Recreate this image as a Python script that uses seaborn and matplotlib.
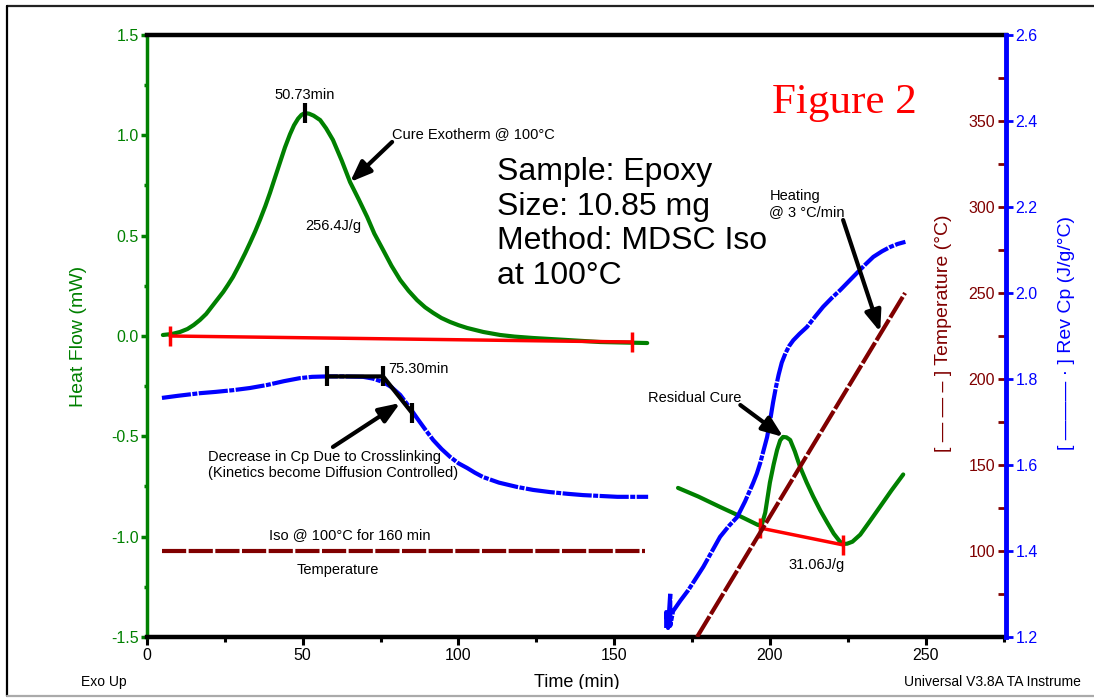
import numpy as np
import matplotlib
matplotlib.use("Agg")
import matplotlib.pyplot as plt
from matplotlib.lines import Line2D
from matplotlib.patches import Rectangle
import seaborn as sns

# ---------------- data ----------------
# isothermal segment (100 °C)
iso_time = [5.1, 8.0, 10.6, 13.0, 15.0, 17.0, 19.0, 21.0, 22.5, 24.5, 26.0, 27.6,
            29.5, 31.5, 33.1, 34.7, 36.3, 38.0, 39.5, 41.0, 42.7, 44.3, 45.9, 47.2,
            48.5, 49.6, 50.7, 52.0, 53.5, 55.6, 57.5, 59.7, 62.5, 65.2, 68.0, 70.7,
            73.0, 75.8, 78.5, 81.3, 84.0, 86.7, 89.3, 91.9, 94.5, 97.3, 100.0,
            102.8, 108.0, 113.4, 118.0, 124.0, 134.9, 145.5, 160.6]
iso_heat_flow = [0.005, 0.010, 0.020, 0.035, 0.055, 0.080, 0.110, 0.150, 0.180,
                 0.220, 0.255, 0.294, 0.350, 0.412, 0.465, 0.520, 0.580, 0.648,
                 0.714, 0.785, 0.865, 0.940, 1.005, 1.050, 1.083, 1.102, 1.111,
                 1.108, 1.098, 1.076, 1.035, 0.977, 0.875, 0.767, 0.680, 0.593,
                 0.510, 0.429, 0.350, 0.279, 0.225, 0.179, 0.143, 0.115, 0.090,
                 0.070, 0.054, 0.040, 0.020, 0.005, -0.003, -0.010, -0.020,
                 -0.030, -0.035]

iso_cp_time = [4.8, 10.0, 17.0, 22.0, 27.6, 33.0, 38.5, 44.0, 49.1, 53.0, 57.8,
               63.0, 69.4, 72.5, 75.8, 78.5, 81.3, 84.0, 86.7, 89.3, 91.9, 94.6,
               97.3, 100.0, 102.8, 105.3, 107.9, 113.0, 118.8, 124.0, 129.4, 135.0,
               140.0, 151.0, 160.9]
iso_rev_cp = [1.756, 1.761, 1.767, 1.770, 1.774, 1.779, 1.786, 1.795, 1.802, 1.805,
              1.806, 1.806, 1.805, 1.801, 1.793, 1.781, 1.763, 1.737, 1.709, 1.683,
              1.658, 1.637, 1.619, 1.604, 1.593, 1.582, 1.572, 1.559, 1.549, 1.542,
              1.537, 1.533, 1.530, 1.526, 1.526]

iso_temp_time = [4.8, 160.0]
iso_temp = [100.0, 100.0]

# heating segment (3 °C/min)
ramp_time = [170.5, 177.0, 184.0, 190.0, 196.2, 197.5, 198.5, 199.3, 200.0, 201.2,
             202.3, 203.3, 204.2, 205.3, 206.5, 208.0, 209.7, 211.8, 213.9, 216.2,
             218.4, 220.5, 222.5, 223.8, 224.8, 226.5, 229.0, 232.0, 235.4, 239.0,
             242.8]
ramp_heat_flow = [-0.757, -0.800, -0.852, -0.895, -0.942, -0.935, -0.880, -0.800,
                  -0.730, -0.640, -0.568, -0.520, -0.503, -0.505, -0.518, -0.575,
                  -0.653, -0.730, -0.800, -0.870, -0.930, -0.985, -1.025, -1.036,
                  -1.035, -1.025, -0.990, -0.925, -0.850, -0.770, -0.690]

ramp_cp_time = [166.7, 166.7, 167.3, 168.0, 168.0, 168.9, 171.3, 173.8, 176.2, 178.6,
                181.3, 184.0, 186.8, 189.5, 192.0, 194.6, 195.8, 196.9, 198.0, 199.1,
                200.1, 201.0, 201.9, 202.8, 203.8, 205.0, 206.2, 207.5, 209.5, 211.9,
                214.5, 217.1, 219.8, 222.6, 225.3, 228.0, 230.6, 233.2, 236.0, 238.6,
                241.0, 243.5]
ramp_rev_cp = [1.221, 1.258, 1.221, 1.302, 1.226, 1.260, 1.285, 1.309, 1.336, 1.363,
               1.398, 1.433, 1.458, 1.479, 1.515, 1.558, 1.580, 1.605, 1.635, 1.665,
               1.705, 1.745, 1.780, 1.810, 1.838, 1.860, 1.877, 1.890, 1.905, 1.921,
               1.945, 1.968, 1.988, 2.007, 2.027, 2.047, 2.066, 2.084, 2.097, 2.107,
               2.114, 2.119]

ramp_temp_time = [176.6, 243.4]
ramp_temp = [50.0, 250.0]

# integration baselines
base1_time = [7.4, 155.8]
base1_hf = [0.0, -0.030]
base2_time = [196.9, 223.5]
base2_hf = [-0.957, -1.041]

# Cp step onset construction (75.30 min)
onset_time = [57.8, 75.8, 85.1]
onset_cp = [1.806, 1.806, 1.721]

# tick values
x_major = [0, 50, 100, 150, 200, 250]
x_minor = [25, 75, 125, 175, 225, 275]
hf_major = [-1.5, -1.0, -0.5, 0.0, 0.5, 1.0, 1.5]
hf_minor = [-1.25, -0.75, -0.25, 0.25, 0.75, 1.25]
temp_major = [100, 150, 200, 250, 300, 350]
temp_minor = [75, 125, 175, 225, 275, 325, 375]
cp_major = [1.2, 1.4, 1.6, 1.8, 2.0, 2.2, 2.4, 2.6]

# ---------------- style ----------------
GREEN = "#008000"
BLUE = "#0000FF"
DARKRED = "#800000"
RED = "#FF0000"

sns.set_style("ticks")
plt.rcParams["font.family"] = ["Liberation Sans", "DejaVu Sans"]
plt.rcParams["axes.unicode_minus"] = False
plt.rcParams["text.color"] = "black"

W, H = 1094, 698
fig = plt.figure(figsize=(W / 100, H / 100), dpi=100)
fig.patch.set_facecolor("white")
L, R, T, B = 147, 1006, 35, 637
ax = fig.add_axes([L / W, 1 - B / H, (R - L) / W, (B - T) / H])
ax_t = ax.twinx()
ax_c = ax.twinx()
for a in (ax_t, ax_c):
    a.patch.set_visible(False)

TEMP_DASH = (0, (5.8, 0.6))
CP_DASH = (0, (7, 0.35, 1.2, 0.35))

# ---------------- heat flow (left axis) ----------------
sns.lineplot(x=iso_time, y=iso_heat_flow, ax=ax, color=GREEN, lw=3,
             sort=False, estimator=None)
sns.lineplot(x=ramp_time, y=ramp_heat_flow, ax=ax, color=GREEN, lw=3,
             sort=False, estimator=None)
ax.plot(base1_time, base1_hf, color=RED, lw=2.5, marker="|", ms=14, mew=2.5)
ax.plot(base2_time, base2_hf, color=RED, lw=2.5, marker="|", ms=14, mew=2.5)

ipk = int(np.argmax(iso_heat_flow))
ax.plot([iso_time[ipk]], [iso_heat_flow[ipk]], marker="|", ms=15, mew=3, color="black")

ax.set_xlim(0, 275.8)
ax.set_ylim(-1.5, 1.5)
ax.set_xticks(x_major)
ax.set_xticks(x_minor, minor=True)
ax.set_yticks(hf_major)
ax.set_yticks(hf_minor, minor=True)
ax.set_yticklabels([f"{v:.1f}" for v in hf_major])
ax.tick_params(axis="x", which="major", direction="out", length=6, width=2.2,
               color="black", labelcolor="black", pad=2, labelsize=11.5, bottom=True, top=False)
ax.tick_params(axis="x", which="minor", direction="out", length=3.5, width=2.2,
               color="black", bottom=True, top=False)
ax.tick_params(axis="y", which="major", direction="out", length=4, width=2.5,
               color=GREEN, labelcolor=GREEN, pad=2, labelsize=11.5, left=True, right=False)
ax.tick_params(axis="y", which="minor", direction="out", length=2.5, width=2.5,
               color=GREEN, left=True, right=False)
ax.spines["left"].set_color(GREEN)
ax.spines["left"].set_linewidth(2.5)
for s in ("top", "bottom"):
    ax.spines[s].set_color("black")
    ax.spines[s].set_linewidth(3.2)
ax.spines["right"].set_visible(False)
ax.set_ylabel("Heat Flow (mW)", color=GREEN, fontsize=14)
ax.yaxis.set_label_coords((87 - L) / (R - L), 0.5)
ax.set_xlabel("Time (min)", color="black", fontsize=13)
ax.xaxis.set_label_coords(0.5006, -0.062)

# ---------------- temperature (inner right axis) ----------------
sns.lineplot(x=iso_temp_time, y=iso_temp, ax=ax_t, color=DARKRED, lw=3,
             linestyle=TEMP_DASH, sort=False, estimator=None)
sns.lineplot(x=ramp_temp_time, y=ramp_temp, ax=ax_t, color=DARKRED, lw=3,
             linestyle=TEMP_DASH, sort=False, estimator=None)
ax_t.set_ylim(50, 400)
ax_t.spines["left"].set_position(("axes", 1.0))
for s in ax_t.spines.values():
    s.set_visible(False)
ax_t.yaxis.set_ticks_position("left")
ax_t.yaxis.set_label_position("left")
ax_t.set_yticks(temp_major)
ax_t.set_yticks(temp_minor, minor=True)
ax_t.set_yticklabels([str(v) for v in temp_major])
ax_t.tick_params(axis="y", which="both", direction="out", length=6, width=2,
                 color=DARKRED, labelcolor=DARKRED, pad=2, labelsize=11.5,
                 left=True, right=False)
ax_t.set_ylabel("[ — — – ] Temperature (°C)", color=DARKRED, fontsize=14)
ax_t.yaxis.set_label_coords((952 - L) / (R - L), 0.505)

# ---------------- reversing Cp (outer right axis) ----------------
sns.lineplot(x=iso_cp_time, y=iso_rev_cp, ax=ax_c, color=BLUE, lw=3,
             linestyle=CP_DASH, sort=False, estimator=None)
sns.lineplot(x=ramp_cp_time, y=ramp_rev_cp, ax=ax_c, color=BLUE, lw=3,
             linestyle=CP_DASH, sort=False, estimator=None)
ax_c.plot(onset_time, onset_cp, color="black", lw=3, marker="|", ms=15, mew=3)
ax_c.set_ylim(1.2, 2.6)
for s in ("top", "bottom", "left"):
    ax_c.spines[s].set_visible(False)
ax_c.spines["right"].set_color(BLUE)
ax_c.spines["right"].set_linewidth(3.5)
ax_c.set_yticks(cp_major)
ax_c.set_yticklabels([f"{v:.1f}" for v in cp_major])
ax_c.tick_params(axis="y", which="major", direction="out", length=5, width=2,
                 color=BLUE, labelcolor=BLUE, pad=2, labelsize=11.5, right=True, left=False)
ax_c.set_ylabel("[ ——— · ] Rev Cp (J/g/°C)", color=BLUE, fontsize=14)
ax_c.yaxis.set_label_coords((1058 - L) / (R - L), 0.505)

for a in (ax, ax_t, ax_c):
    a.grid(False)

# ---------------- annotations (heat-flow data coordinates) ----------------
td = ax.transData
AP = dict(arrowstyle="-|>,head_length=0.9,head_width=0.35", lw=3, color="black",
          shrinkA=0, shrinkB=0, mutation_scale=14)
SMALL = 10.5

def note(x, y, s, **kw):
    kw.setdefault("fontsize", SMALL)
    kw.setdefault("color", "black")
    ax_c.text(x, y, s, transform=td, **kw)

note(iso_time[ipk], 1.201, "50.73min", ha="center", va="center")
note(78.7, 1.007, "Cure Exotherm @ 100°C", ha="left", va="center")
ax_c.annotate("", xy=(65.2, 0.767), xytext=(78.7, 0.967), xycoords=td,
              textcoords=td, arrowprops=AP)
note(59.7, 0.548, "256.4J/g", ha="center", va="center")
note(112.4, 0.558, "Sample: Epoxy\nSize: 10.85 mg\nMethod: MDSC Iso\nat 100°C",
     ha="left", va="center", fontsize=23, linespacing=1.2)
note(223.9, 1.161, "Figure 2", ha="center", va="center", fontsize=31, color=RED,
     family=["Liberation Serif", "DejaVu Serif"])
note(199.8, 0.658, "Heating\n@ 3 °C/min", ha="left", va="center", linespacing=1.22)
ax_c.annotate("", xy=(235.4, 0.020), xytext=(223.5, 0.578), xycoords=td,
              textcoords=td, arrowprops=AP)
note(77.4, -0.164, "75.30min", ha="left", va="center")
note(19.6, -0.643, "Decrease in Cp Due to Crosslinking\n(Kinetics become Diffusion Controlled)",
     ha="left", va="center", linespacing=1.1)
ax_c.annotate("", xy=(81.3, -0.334), xytext=(59.7, -0.553), xycoords=td,
              textcoords=td, arrowprops=AP)
note(65.2, -0.992, "Iso @ 100°C for 160 min", ha="center", va="center")
note(61.3, -1.166, "Temperature", ha="center", va="center")
note(160.9, -0.309, "Residual Cure", ha="left", va="center")
ax_c.annotate("", xy=(204.3, -0.503), xytext=(190.5, -0.344), xycoords=td,
              textcoords=td, arrowprops=AP)
note(214.9, -1.141, "31.06J/g", ha="center", va="center")

# ---------------- page furniture ----------------
fig.text(104 / W, 1 - 682 / H, "Exo Up", ha="center", va="center", fontsize=10)
fig.text(1081 / W, 1 - 682 / H, "Universal V3.8A TA Instrume", ha="right",
         va="center", fontsize=10)
fig.add_artist(Rectangle((0, 0), 1, 9.5 / H, transform=fig.transFigure,
                         facecolor="white", edgecolor="none", zorder=10))
fig.add_artist(Line2D([7 / W, 1], [1 - 6 / H, 1 - 6 / H], transform=fig.transFigure,
                      color="#222222", lw=1.6, zorder=11))
fig.add_artist(Line2D([7 / W, 7 / W], [1 - 6 / H, 1 - 696 / H], transform=fig.transFigure,
                      color="black", lw=1.6, zorder=11))
fig.add_artist(Line2D([7 / W, 1], [1 - 696 / H, 1 - 696 / H], transform=fig.transFigure,
                      color="#aaaaaa", lw=1.6, zorder=11))

fig.savefig("out.png", dpi=100, facecolor="white")
